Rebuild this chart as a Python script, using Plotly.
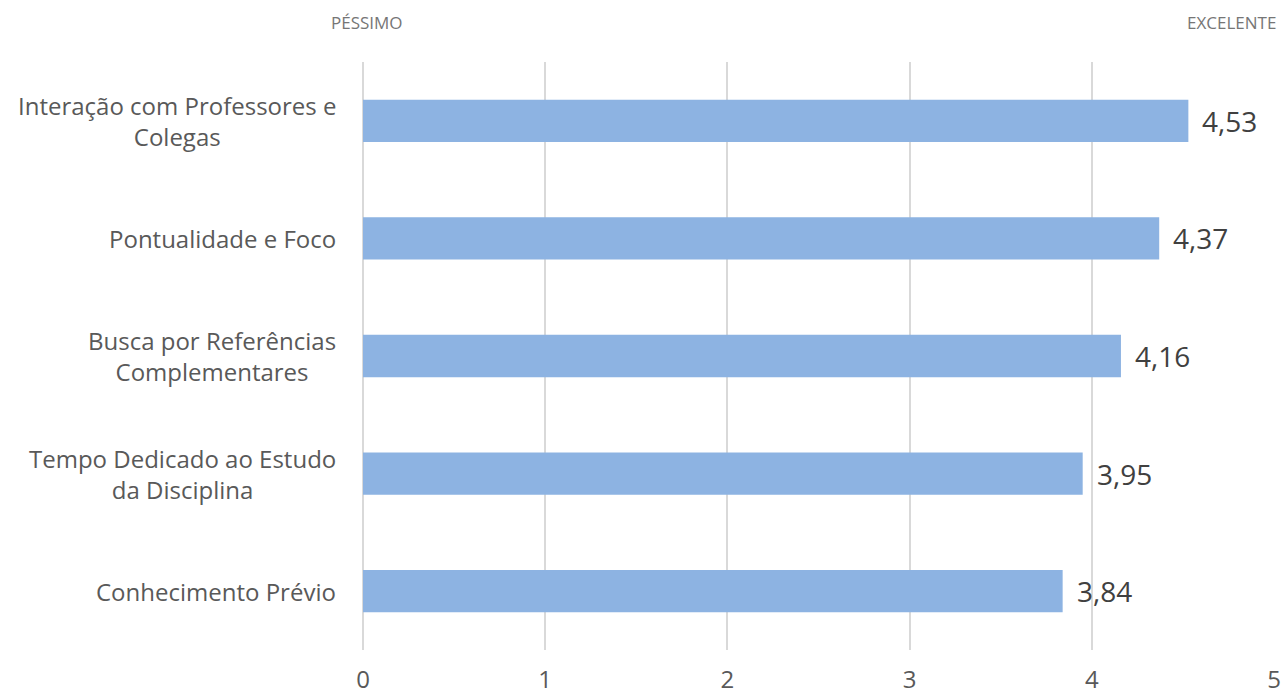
import plotly.graph_objects as go

categories = [
    "Interação com Professores e<br>Colegas",
    "Pontualidade e Foco",
    "Busca por Referências<br>Complementares",
    "Tempo Dedicado ao Estudo<br>da Disciplina",
    "Conhecimento Prévio",
]
values = [4.53, 4.37, 4.16, 3.95, 3.84]
value_labels = ["4,53", "4,37", "4,16", "3,95", "3,84"]
x_ticks = [0, 1, 2, 3, 4, 5]

FONT = "Open Sans"
TXT = "#595959"

fig = go.Figure()
fig.add_trace(go.Bar(
    x=values, y=categories, orientation="h",
    marker=dict(color="#8DB3E2", line=dict(width=0)),
    width=0.36, hoverinfo="x+y",
))

annotations = []
for c in categories:
    annotations.append(dict(
        x=0, xref="paper", y=c, yref="y", text=c, showarrow=False,
        xanchor="right", yanchor="middle", align="center", xshift=-25,
        font=dict(family=FONT, size=24, color=TXT),
    ))
for c, v, t in zip(categories, values, value_labels):
    annotations.append(dict(
        x=v, xref="x", y=c, yref="y", text=t, showarrow=False,
        xanchor="left", yanchor="middle", xshift=12, yshift=0,
        font=dict(family=FONT, size=28, color="#404040"),
    ))
annotations.append(dict(
    x=0, xref="paper", y=1, yref="paper", text="PÉSSIMO", showarrow=False,
    xanchor="center", yanchor="middle", xshift=4, yshift=40,
    font=dict(family=FONT, size=17, color="#767676"),
))
annotations.append(dict(
    x=1, xref="paper", y=1, yref="paper", text="EXCELENTE", showarrow=False,
    xanchor="right", yanchor="middle", xshift=4, yshift=40,
    font=dict(family=FONT, size=17, color="#767676"),
))

fig.update_layout(
    width=1282, height=697,
    margin=dict(l=363, r=8, t=62, b=47),
    paper_bgcolor="white", plot_bgcolor="white",
    showlegend=False,
    annotations=annotations,
    xaxis=dict(
        range=[0, 5], tickvals=x_ticks, ticktext=[str(t) for t in x_ticks],
        showgrid=True, gridcolor="#D9D9D9", gridwidth=1.5,
        zeroline=True, zerolinecolor="#D9D9D9", zerolinewidth=1.5,
        showline=False, ticks="", ticklen=0, ticklabelstandoff=13,
        tickfont=dict(family=FONT, size=24, color=TXT),
        fixedrange=True, automargin=False,
    ),
    yaxis=dict(
        autorange="reversed", showticklabels=False, showgrid=False,
        zeroline=False, ticks="", fixedrange=True, automargin=False,
    ),
    bargap=0.64,
)

fig.write_html(
    "out.html",
    config={"displayModeBar": False},
    post_script="document.body.style.margin='0';document.body.style.overflow='hidden';",
)
